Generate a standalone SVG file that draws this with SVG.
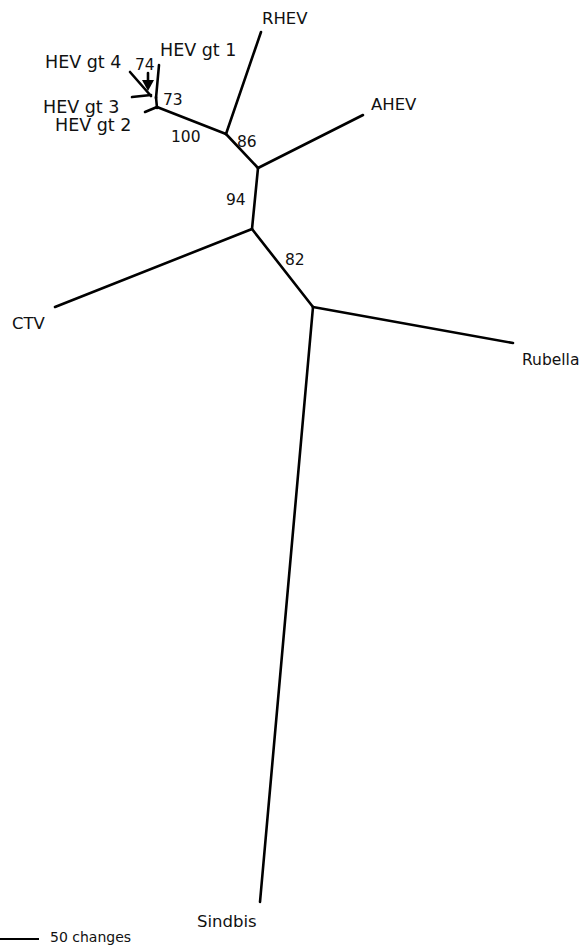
<svg xmlns="http://www.w3.org/2000/svg" width="585" height="947" viewBox="0 0 585 947">
<style>
.br{stroke:#000;stroke-width:2.6;fill:none;stroke-linecap:round;stroke-linejoin:round}
text{font-family:"DejaVu Sans","Liberation Sans",sans-serif;fill:#111}
.hev{font-size:17.5px}
.lab{font-size:16.5px}
.bs{font-size:15.5px}
</style>
<rect width="585" height="947" fill="#fff"/>
<g id="connectors">
<path class="br" d="M130,72 L151,96"/>
<path class="br" d="M159,65 L156,98"/>
<path class="br" d="M132,97 L151,95"/>
<path class="br" d="M156,97 L157,108"/>
<path class="br" d="M145,112 L157,107"/>
<path class="br" d="M157,107 L226,134"/>
<path class="br" d="M226,134 L261,32"/>
<path class="br" d="M226,134 L258,168"/>
<path class="br" d="M258,168 L363,115"/>
<path class="br" d="M258,168 L252,229"/>
<path class="br" d="M252,229 L55,307"/>
<path class="br" d="M252,229 L313,307"/>
<path class="br" d="M313,307 L513,343"/>
<path class="br" d="M313,307 L260,902"/>
<path class="br" d="M148,73 L148,82"/>
<polygon points="142,80 154,80 148,91" fill="#000"/>
<path d="M0,939 L39,939" stroke="#000" stroke-width="2"/>
</g>
<g id="hev4"><text class="hev" x="45" y="68">HEV gt 4</text></g>
<g id="hev1"><text class="hev" x="160" y="56">HEV gt 1</text></g>
<g id="hev3"><text class="hev" x="43" y="113">HEV gt 3</text></g>
<g id="hev2"><text class="hev" x="55" y="131">HEV gt 2</text></g>
<g id="rhev"><text class="lab" x="262" y="24">RHEV</text></g>
<g id="ahev"><text class="lab" x="371" y="110">AHEV</text></g>
<g id="ctv"><text class="lab" x="12" y="329">CTV</text></g>
<g id="rubella"><text class="bs" x="522" y="365">Rubella</text></g>
<g id="sindbis"><text class="lab" x="197" y="927">Sindbis</text></g>
<g id="bootstrap">
<text class="bs" x="135" y="70">74</text>
<text class="bs" x="163" y="105">73</text>
<text class="bs" x="171" y="142">100</text>
<text class="bs" x="237" y="147">86</text>
<text class="bs" x="226" y="205">94</text>
<text class="bs" x="285" y="265">82</text>
</g>
<g id="scale"><text class="bs" x="50" y="942" style="font-size:14px">50 changes</text></g>
</svg>
